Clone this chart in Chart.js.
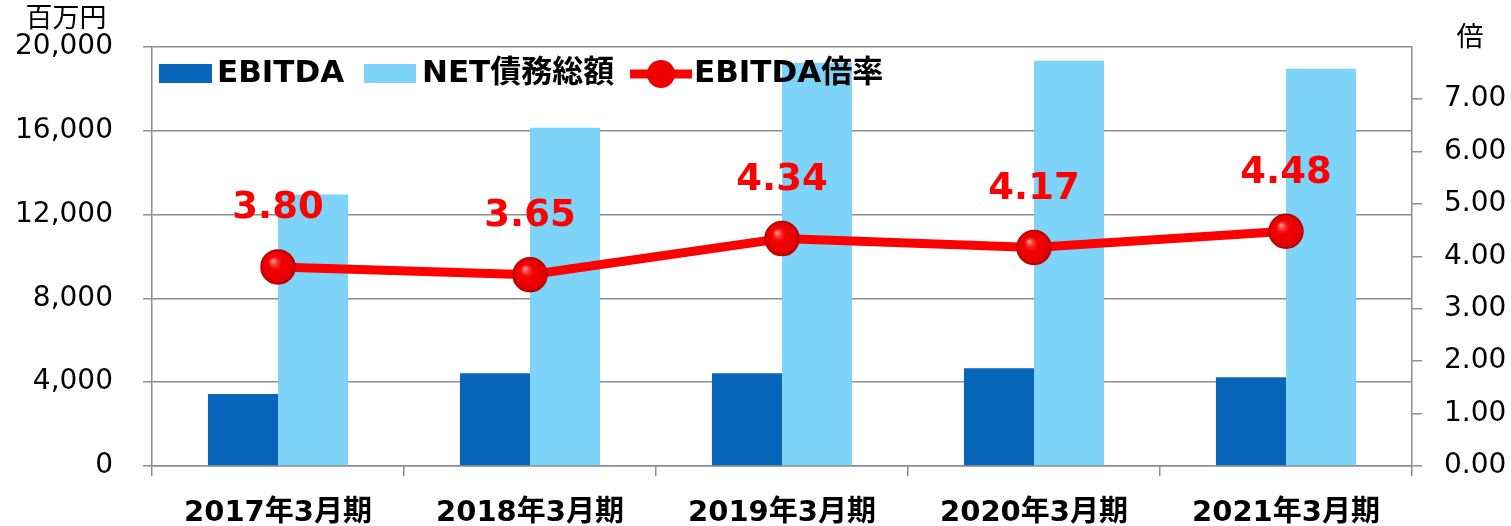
<!DOCTYPE html>
<html>
<head>
<meta charset="utf-8">
<script src="https://cdn.jsdelivr.net/npm/chart.js@4/dist/chart.umd.min.js"></script>
<style>
  body { margin: 0; background: #fff; }
  #wrap { width: 1511px; height: 526px; position: relative; }
</style>
</head>
<body>
<div id="wrap"><canvas id="chart"></canvas></div>
<script>
const categories = ['2017年3月期', '2018年3月期', '2019年3月期', '2020年3月期', '2021年3月期'];
const ebitda = [3430, 4430, 4430, 4660, 4240];
const netDebt = [12950, 16140, 19240, 19330, 18950];
const ebitdaRatio = [3.80, 3.65, 4.34, 4.17, 4.48];
const leftTicks = [0, 4000, 8000, 12000, 16000, 20000];
const rightTicks = [0, 1, 2, 3, 4, 5, 6, 7];

const FONT = "'DejaVu Sans', 'Noto Sans CJK JP', sans-serif";
const GRID = '#8c8c8c';

// red value labels over the line + custom legend + axis unit titles
const extras = {
  id: 'extras',
  afterDatasetsDraw(chart) {
    const ctx = chart.ctx;
    const meta = chart.getDatasetMeta(0);
    ctx.save();
    // a little shine on the round markers
    meta.data.forEach((pt) => {
      const g = ctx.createRadialGradient(pt.x - 5, pt.y - 6, 1, pt.x, pt.y, 17);
      g.addColorStop(0, 'rgba(255,150,150,0.9)');
      g.addColorStop(0.45, 'rgba(255,0,0,0)');
      g.addColorStop(1, 'rgba(150,0,0,0.35)');
      ctx.fillStyle = g;
      ctx.beginPath();
      ctx.arc(pt.x, pt.y, 17, 0, Math.PI * 2);
      ctx.fill();
    });
    ctx.fillStyle = '#ff0000';
    ctx.font = 'bold 37px ' + FONT;
    ctx.textAlign = 'center';
    ctx.textBaseline = 'middle';
    meta.data.forEach((pt, i) => {
      ctx.fillText(ebitdaRatio[i].toFixed(2), pt.x, pt.y - 58);
    });
    ctx.restore();
  },
  afterDraw(chart) {
    const ctx = chart.ctx;
    ctx.save();
    // unit titles
    ctx.fillStyle = '#000';
    ctx.font = '27px ' + FONT;
    ctx.textAlign = 'center';
    ctx.textBaseline = 'middle';
    ctx.fillText('百万円', 66, 20);
    ctx.fillText('倍', 1470, 39);

    // legend
    ctx.font = 'bold 31px ' + FONT;
    ctx.textAlign = 'left';
    ctx.textBaseline = 'middle';
    ctx.fillStyle = '#0766b9';
    ctx.fillRect(159, 64, 53, 19);
    ctx.fillStyle = '#000';
    ctx.fillText('EBITDA', 217, 74);
    ctx.fillStyle = '#7dd3f8';
    ctx.fillRect(364, 64, 52, 19);
    ctx.fillStyle = '#000';
    ctx.fillText('NET債務総額', 422, 74);
    ctx.strokeStyle = '#ff0000';
    ctx.lineWidth = 9;
    ctx.beginPath();
    ctx.moveTo(630, 74);
    ctx.lineTo(692, 74);
    ctx.stroke();
    ctx.beginPath();
    ctx.arc(661, 74, 14, 0, Math.PI * 2);
    ctx.fillStyle = '#ee0000';
    ctx.fill();
    ctx.fillStyle = '#000';
    ctx.fillText('EBITDA倍率', 694, 74);
    ctx.restore();
  }
};

new Chart(document.getElementById('chart'), {
  type: 'bar',
  data: {
    labels: categories,
    datasets: [
      {
        type: 'line',
        label: 'EBITDA倍率',
        data: ebitdaRatio,
        yAxisID: 'y2',
        borderColor: '#ff0000',
        borderWidth: 9,
        pointRadius: 17,
        pointBackgroundColor: '#f00000',
        pointBorderColor: '#c00000',
        pointBorderWidth: 1.5,
        tension: 0,
        order: 0,
      },
      {
        label: 'EBITDA',
        data: ebitda,
        backgroundColor: '#0766b9',
        yAxisID: 'y',
        order: 1,
      },
      {
        label: 'NET債務総額',
        data: netDebt,
        backgroundColor: '#7dd3f8',
        yAxisID: 'y',
        order: 2,
      },
    ],
  },
  options: {
    responsive: true,
    maintainAspectRatio: false,
    animation: false,
    layout: { padding: { top: 46, left: 0, right: 0, bottom: 0 } },
    datasets: {
      bar: { barPercentage: 1, categoryPercentage: 0.556 },
    },
    scales: {
      x: {
        grid: {
          offset: true,
          drawOnChartArea: false,
          drawTicks: true,
          tickLength: 10,
          color: GRID,
          lineWidth: 1.5,
        },
        border: { color: GRID, width: 1.5 },
        ticks: {
          color: '#000',
          font: { family: FONT, size: 29, weight: 'bold' },
          padding: 20,
          maxRotation: 0,
        },
        afterFit: (s) => { s.height = 60; },
      },
      y: {
        position: 'left',
        min: 0,
        max: 20000,
        afterBuildTicks: (s) => { s.ticks = leftTicks.map(v => ({ value: v })); },
        grid: { color: GRID, lineWidth: 1.5, tickLength: 9 },
        border: { color: GRID, width: 1.5 },
        ticks: {
          color: '#000',
          font: { family: FONT, size: 28 },
          padding: 30,
          callback: (v) => v.toLocaleString('en-US'),
        },
        afterFit: (s) => { s.width = 152; },
      },
      y2: {
        position: 'right',
        min: 0,
        max: 8,
        afterBuildTicks: (s) => { s.ticks = rightTicks.map(v => ({ value: v })); },
        grid: { drawOnChartArea: false, color: GRID, lineWidth: 1.5, tickLength: 10 },
        border: { color: GRID, width: 1.5 },
        ticks: {
          color: '#000',
          font: { family: FONT, size: 28 },
          padding: 22,
          callback: (v) => Number(v).toFixed(2),
        },
        afterFit: (s) => { s.width = 99; },
      },
    },
    plugins: {
      legend: { display: false },
      tooltip: { enabled: false },
    },
  },
  plugins: [extras],
});
</script>
</body>
</html>
